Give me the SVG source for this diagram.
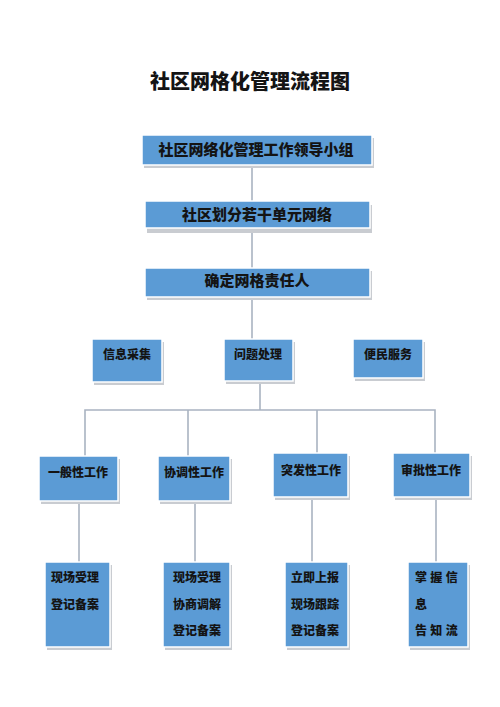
<svg xmlns="http://www.w3.org/2000/svg" width="500" height="707" viewBox="0 0 500 707">
<style>
.sh{fill:#c9ccd1}
.bx{fill:#5b9bd5;stroke:#ffffff;stroke-width:1.5}
.t{font-family:"Liberation Sans","Noto Sans CJK SC",sans-serif;font-weight:900;fill:#141414;dominant-baseline:central}
.c{text-anchor:middle}
.ln{stroke:#a9b3c1;stroke-width:1.6;fill:none}
</style>
<rect width="500" height="707" fill="#ffffff"/>
<text class="t c" x="250" y="82" font-size="20">社区网格化管理流程图</text>
<g id="connectors">
<line class="ln" x1="252" y1="165" x2="252" y2="202"/>
<line class="ln" x1="252" y1="228" x2="252" y2="268"/>
<line class="ln" x1="252" y1="297" x2="252" y2="339"/>
<line class="ln" x1="260" y1="381" x2="260" y2="410"/>
<polyline class="ln" points="85,456 85,410 435,410 435,453"/>
<line class="ln" x1="188" y1="410" x2="188" y2="456"/>
<line class="ln" x1="317" y1="410" x2="317" y2="453"/>
<line class="ln" x1="79" y1="501" x2="79" y2="562"/>
<line class="ln" x1="195" y1="501" x2="195" y2="562"/>
<line class="ln" x1="312" y1="497" x2="312" y2="562"/>
<line class="ln" x1="436" y1="497" x2="436" y2="562"/>
</g>
<g id="n1"><rect class="sh" x="144" y="138" width="230" height="30"/><rect class="bx" x="142" y="135" width="230" height="30"/><text class="t c" x="256" y="149" font-size="15">社区网络化管理工作领导小组</text></g>
<g id="n2"><rect class="sh" x="147" y="205" width="225" height="28"/><rect class="bx" x="145" y="201" width="225" height="27"/><text class="t c" x="257" y="214" font-size="15">社区划分若干单元网络</text></g>
<g id="n3"><rect class="sh" x="147" y="271" width="225" height="29"/><rect class="bx" x="145" y="268" width="225" height="29"/><text class="t c" x="257" y="280" font-size="15">确定网格责任人</text></g>
<g id="n4"><rect class="sh" x="94" y="342" width="70" height="43"/><rect class="bx" x="92" y="339" width="70" height="43"/><text class="t c" x="127" y="355" font-size="12">信息采集</text></g>
<g id="n5"><rect class="sh" x="226" y="342" width="69" height="42"/><rect class="bx" x="224" y="339" width="69" height="42"/><text class="t c" x="258" y="355" font-size="12">问题处理</text></g>
<g id="n6"><rect class="sh" x="355" y="342" width="70" height="39"/><rect class="bx" x="353" y="339" width="70" height="39"/><text class="t c" x="388" y="355" font-size="12">便民服务</text></g>
<g id="n7"><rect class="sh" x="41" y="459" width="79" height="45"/><rect class="bx" x="39" y="456" width="79" height="45"/><text class="t c" x="78" y="473" font-size="12">一般性工作</text></g>
<g id="n8"><rect class="sh" x="160" y="459" width="72" height="45"/><rect class="bx" x="158" y="456" width="72" height="45"/><text class="t c" x="194" y="473" font-size="12">协调性工作</text></g>
<g id="n9"><rect class="sh" x="275" y="456" width="75" height="44"/><rect class="bx" x="273" y="453" width="75" height="44"/><text class="t c" x="311" y="471" font-size="12">突发性工作</text></g>
<g id="n10"><rect class="sh" x="395" y="456" width="77" height="44"/><rect class="bx" x="393" y="453" width="77" height="44"/><text class="t c" x="431" y="471" font-size="12">审批性工作</text></g>
<g id="n11"><rect class="sh" x="47" y="565" width="65" height="85"/><rect class="bx" x="45" y="562" width="65" height="85"/><text class="t" x="51" y="578" font-size="12">现场受理</text><text class="t" x="51" y="605" font-size="12">登记备案</text></g>
<g id="n12"><rect class="sh" x="165" y="565" width="67" height="85"/><rect class="bx" x="163" y="562" width="67" height="85"/><text class="t" x="173" y="578" font-size="12">现场受理</text><text class="t" x="173" y="605" font-size="12">协商调解</text><text class="t" x="173" y="631" font-size="12">登记备案</text></g>
<g id="n13"><rect class="sh" x="287" y="565" width="63" height="85"/><rect class="bx" x="285" y="562" width="63" height="85"/><text class="t" x="291" y="578" font-size="12">立即上报</text><text class="t" x="291" y="605" font-size="12">现场跟踪</text><text class="t" x="291" y="631" font-size="12">登记备案</text></g>
<g id="n14"><rect class="sh" x="410" y="565" width="60" height="85"/><rect class="bx" x="408" y="562" width="60" height="85"/><text class="t" x="415" y="578" font-size="12" xml:space="preserve">掌 握 信</text><text class="t" x="415" y="605" font-size="12">息</text><text class="t" x="415" y="631" font-size="12" xml:space="preserve">告 知 流</text></g>
</svg>
